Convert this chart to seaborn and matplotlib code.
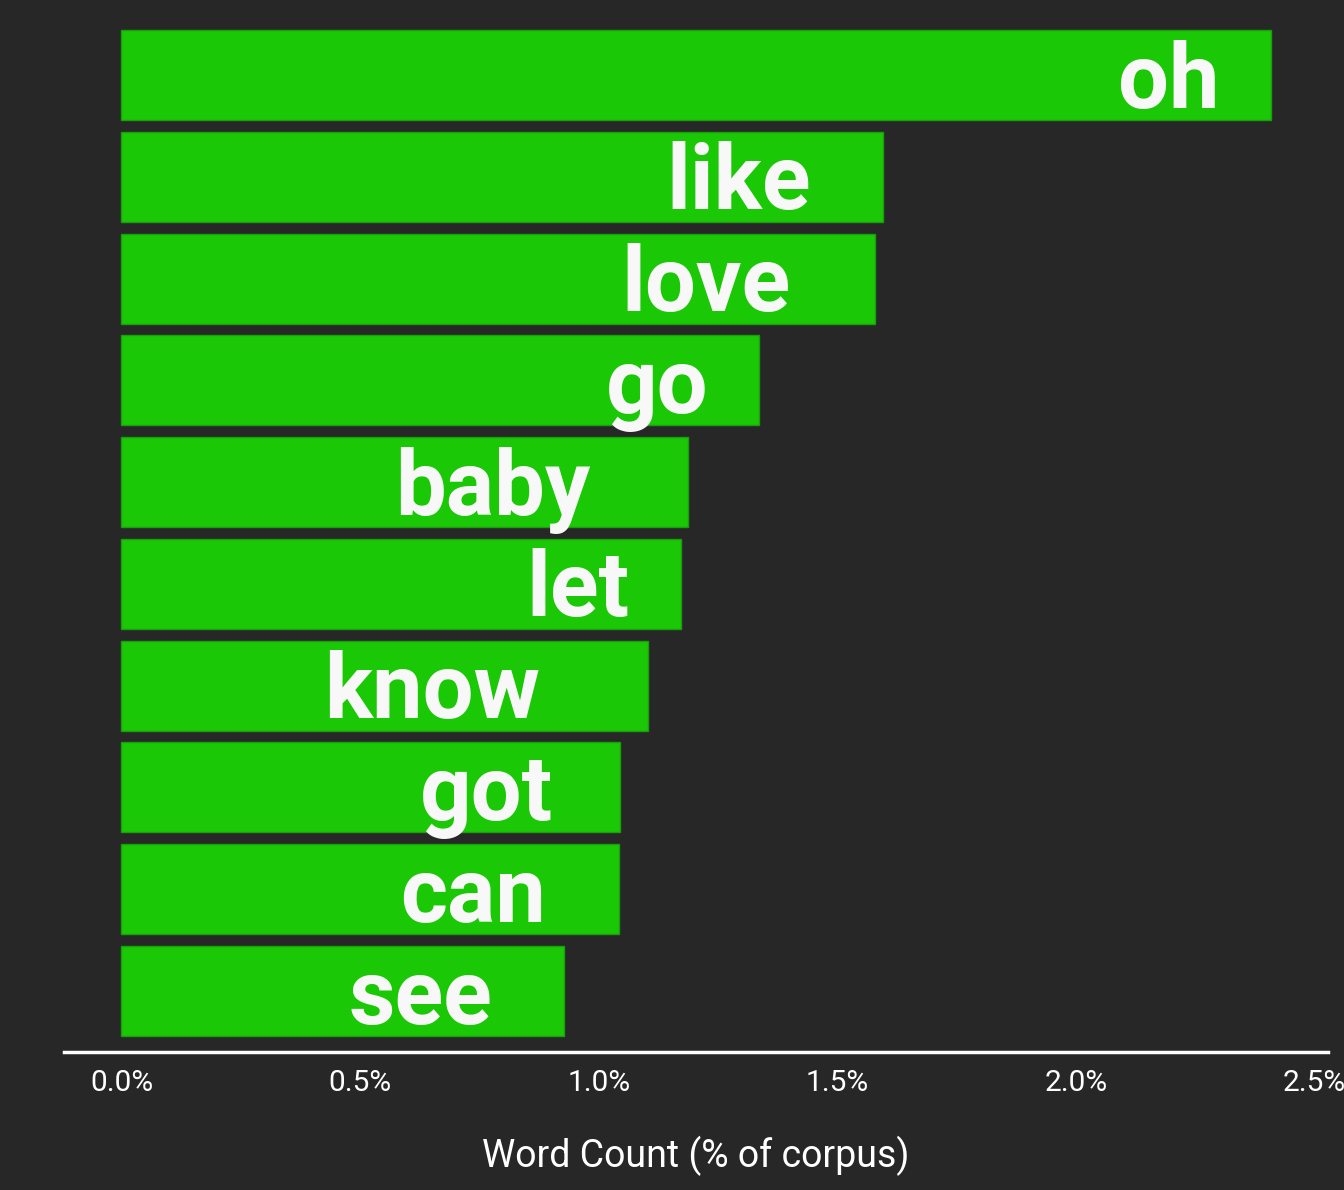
import matplotlib
matplotlib.use("Agg")
import matplotlib.pyplot as plt
import matplotlib.transforms as mtransforms
import seaborn as sns
import pandas as pd

# word frequencies (% of corpus)
words = ["oh", "like", "love", "go", "baby", "let", "know", "got", "can", "see"]
share = [2.408, 1.596, 1.579, 1.337, 1.188, 1.172, 1.103, 1.044, 1.042, 0.927]
ticks = [0.0, 0.5, 1.0, 1.5, 2.0, 2.5]
tick_labels = ["0.0%", "0.5%", "1.0%", "1.5%", "2.0%", "2.5%"]

df = pd.DataFrame({"word": words, "share": share})

bg = "#272727"
green = "#1AC805"

sns.set_theme(style="dark")
plt.rcParams["font.family"] = ["Roboto", "DejaVu Sans"]

fig = plt.figure(figsize=(13.44, 11.9), dpi=100, facecolor=bg)
ax = fig.add_axes([64 / 1344, 138 / 1190, 1264 / 1344, 1038 / 1190])
ax.set_facecolor(bg)

sns.barplot(data=df, x="share", y="word", orient="h", color=green,
            saturation=1, width=0.885, edgecolor="#17A00A", linewidth=1, ax=ax)

ax.set_xlim(-0.1204, 2.5284)
ax.set_ylim(len(words) - 0.4, -0.6)
ax.set_xticks(ticks)
ax.set_xticklabels(tick_labels, color="white", fontsize=21.5)
ax.tick_params(axis="x", length=0, pad=12)
ax.set_yticks([])
ax.set_ylabel("")
ax.set_xlabel("Word Count (% of corpus)", color="white", fontsize=27, labelpad=28)

for s in ["top", "right", "left"]:
    ax.spines[s].set_visible(False)
ax.spines["bottom"].set_color("white")
ax.spines["bottom"].set_linewidth(2.5)
ax.grid(False)

# labels inside bars, right edge half a label width before bar end
texts = []
for i, (w, v) in enumerate(zip(words, share)):
    t = ax.text(v, i + 0.32, w, ha="right", va="baseline", color="#F8F8F8",
                fontsize=65, fontweight="bold")
    texts.append(t)

fig.canvas.draw()
renderer = fig.canvas.get_renderer()
for t in texts:
    bb = t.get_window_extent(renderer)
    shift = mtransforms.ScaledTranslation(-0.5 * bb.width / fig.dpi, 0, fig.dpi_scale_trans)
    t.set_transform(ax.transData + shift)

fig.savefig("out.png", dpi=100, facecolor=bg)
